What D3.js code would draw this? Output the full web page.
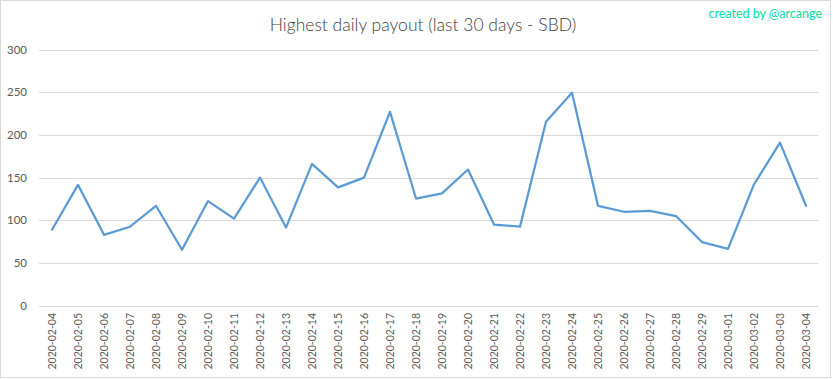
<!DOCTYPE html>
<html>
<head>
<meta charset="utf-8">
<script src="https://cdn.jsdelivr.net/npm/d3@7"></script>
<style>
  body { margin: 0; background: #fff; }
  svg { display: block; }
</style>
</head>
<body>
<div id="chart"></div>
<script>
let chart_title = "Highest daily payout (last 30 days - SBD)";
let credit_text = "created by @arcange";
let dates = ["2020-02-04", "2020-02-05", "2020-02-06", "2020-02-07", "2020-02-08", "2020-02-09",
  "2020-02-10", "2020-02-11", "2020-02-12", "2020-02-13", "2020-02-14", "2020-02-15",
  "2020-02-16", "2020-02-17", "2020-02-18", "2020-02-19", "2020-02-20", "2020-02-21",
  "2020-02-22", "2020-02-23", "2020-02-24", "2020-02-25", "2020-02-26", "2020-02-27",
  "2020-02-28", "2020-02-29", "2020-03-01", "2020-03-02", "2020-03-03", "2020-03-04"];
let payouts = [89, 141.5, 83, 92.5, 117, 65.5, 122.5, 102, 150, 91.5,
  166, 138.5, 150, 227, 125.5, 131.5, 159.5, 95, 92.5, 215.5,
  249.5, 117, 110, 111, 105, 74.5, 66.5, 142, 191, 117];
let y_ticks = [0, 50, 100, 150, 200, 250, 300];

let width = 833, height = 379;
let margin = { left: 39, right: 15, top: 49.5, bottom: 73 };
let font = "Lato, 'Open Sans', sans-serif";

let svg = d3.select("#chart").append("svg")
  .attr("width", width)
  .attr("height", height);

// outer frame
svg.append("rect")
  .attr("x", 0.5).attr("y", 0.5)
  .attr("width", 830).attr("height", 377)
  .attr("fill", "#fff")
  .attr("stroke", "#d9d9d9");

let x = d3.scaleBand()
  .domain(dates)
  .range([margin.left, 819]);

let y = d3.scaleLinear()
  .domain([0, 300])
  .range([305.7, margin.top]);

// gridlines
svg.append("g")
  .selectAll("line")
  .data(y_ticks)
  .enter().append("line")
  .attr("x1", margin.left)
  .attr("x2", 818)
  .attr("y1", d => Math.round(y(d)) + 0.5)
  .attr("y2", d => Math.round(y(d)) + 0.5)
  .attr("stroke", "#d9d9d9")
  .attr("stroke-width", 1);

// y labels
svg.append("g")
  .selectAll("text")
  .data(y_ticks)
  .enter().append("text")
  .attr("x", 27)
  .attr("y", d => y(d))
  .attr("dy", "0.35em")
  .attr("text-anchor", "end")
  .attr("font-family", font)
  .attr("font-size", 11.5)
  .attr("fill", "#595959")
  .text(d => d);

// x labels (rotated)
svg.append("g")
  .selectAll("text")
  .data(dates)
  .enter().append("text")
  .attr("transform", d => "translate(" + (x(d) + x.bandwidth() / 2) + ",313) rotate(-90)")
  .attr("dy", "0.35em")
  .attr("text-anchor", "end")
  .attr("font-family", font)
  .attr("font-size", 10.5)
  .attr("fill", "#595959")
  .text(d => d);

// series line
let line = d3.line()
  .x((d, i) => x(dates[i]) + x.bandwidth() / 2)
  .y(d => y(d));

svg.append("path")
  .datum(payouts)
  .attr("d", line)
  .attr("fill", "none")
  .attr("stroke", "#5b9bd5")
  .attr("stroke-width", 2.25)
  .attr("stroke-linejoin", "round")
  .attr("stroke-linecap", "round");

// title
svg.append("text")
  .attr("x", 423)
  .attr("y", 31)
  .attr("text-anchor", "middle")
  .attr("font-family", font)
  .attr("font-weight", 300)
  .attr("font-size", 17.5)
  .attr("fill", "#404040")
  .text(chart_title);

// credit
svg.append("text")
  .attr("x", 822)
  .attr("y", 18)
  .attr("text-anchor", "end")
  .attr("font-family", font)
  .attr("font-size", 12.5)
  .attr("fill", "#00e0a0")
  .text(credit_text);
</script>
</body>
</html>
